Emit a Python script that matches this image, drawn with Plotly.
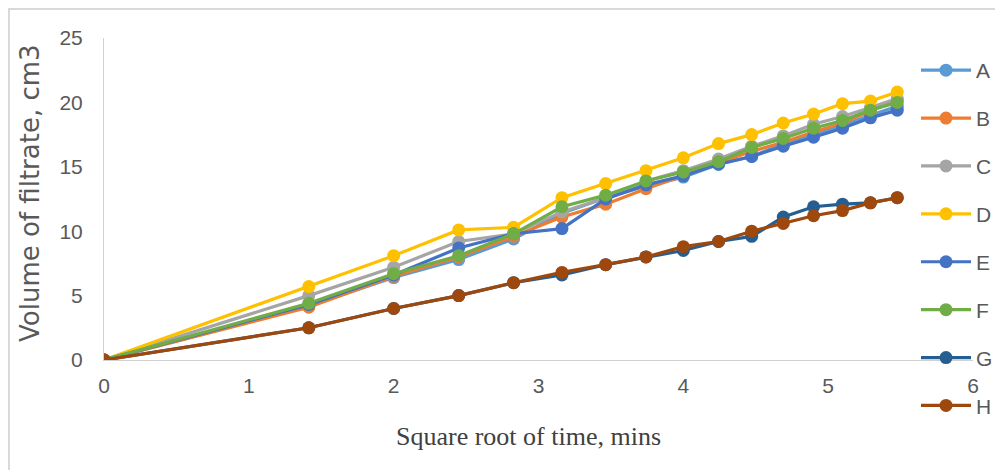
import plotly.graph_objects as go

# square root of time (mins)
x_vals = [0, 1.414, 2, 2.449, 2.828, 3.162, 3.464, 3.742, 4, 4.243, 4.472, 4.690, 4.899, 5.099, 5.292, 5.477]

series_names = ["A", "B", "C", "D", "E", "F", "G", "H"]
A = [0, 4.2, 6.4, 7.8, 9.4, 11.4, 12.6, 13.5, 14.2, 15.2, 15.8, 16.8, 17.5, 18.2, 19.0, 19.7]
B = [0, 4.1, 6.5, 8.0, 9.6, 11.1, 12.1, 13.3, 14.3, 15.3, 16.2, 16.9, 17.7, 18.4, 19.3, 20.2]
C = [0, 5.0, 7.2, 9.2, 9.8, 11.5, 12.6, 13.9, 14.7, 15.6, 16.6, 17.4, 18.3, 18.9, 19.6, 20.3]
D = [0, 5.7, 8.1, 10.1, 10.3, 12.6, 13.7, 14.7, 15.7, 16.8, 17.5, 18.4, 19.1, 19.9, 20.1, 20.8]
E = [0, 4.3, 6.6, 8.7, 9.8, 10.2, 12.5, 13.6, 14.3, 15.2, 15.8, 16.6, 17.3, 18.0, 18.8, 19.4]
F = [0, 4.4, 6.7, 8.1, 9.8, 11.9, 12.8, 13.9, 14.6, 15.4, 16.5, 17.2, 18.0, 18.6, 19.4, 20.0]
G = [0, 2.5, 4.0, 5.0, 6.0, 6.6, 7.4, 8.0, 8.5, 9.2, 9.6, 11.1, 11.9, 12.1, 12.2, 12.6]
H = [0, 2.5, 4.0, 5.0, 6.0, 6.8, 7.4, 8.0, 8.8, 9.2, 10.0, 10.6, 11.2, 11.6, 12.2, 12.6]
series_values = [A, B, C, D, E, F, G, H]

x_title = "Square root of time, mins"
y_title = "Volume of filtrate, cm3"

colors = ["#5B9BD5", "#ED7D31", "#A5A5A5", "#FFC000", "#4472C4", "#70AD47", "#255E91", "#9E480E"]

fig = go.Figure()
for name, vals, col in zip(series_names, series_values, colors):
    fig.add_trace(go.Scatter(
        x=x_vals, y=vals, name=name, mode="lines+markers",
        line=dict(color=col, width=3.2),
        marker=dict(color=col, size=13),
        legendgroup=name,
    ))

tick_font = dict(family="Liberation Sans Narrow, Liberation Sans, sans-serif", size=21, color="#595959")

# page body has an 8px margin: figure coords = reference px - 8
OFF = 8
W, Hh = 1003, 470
L = 104 - OFF
T = 38 - OFF
x_right = 973 - OFF
y_bottom = 360 - OFF
R = W - x_right
B_ = Hh - y_bottom
pw, ph = x_right - L, y_bottom - T

def px2x(px):
    return (px - OFF - L) / pw

def py2y(py):
    return 1 - (py - OFF - T) / ph

fig.update_layout(
    width=W, height=Hh,
    margin=dict(l=L, r=R, t=T, b=B_, autoexpand=False),
    paper_bgcolor="white", plot_bgcolor="white",
    showlegend=True,
    legend=dict(
        x=px2x(916), y=py2y(50), xanchor="left", yanchor="top",
        font=dict(family="Liberation Sans Narrow, Liberation Sans, sans-serif", size=21, color="#595959"),
        bgcolor="rgba(0,0,0,0)",
        tracegroupgap=17.6,
        itemwidth=50,
        maxheight=440,
    ),
    xaxis=dict(
        range=[0, 6], dtick=1, tick0=0,
        showgrid=False, zeroline=False,
        showline=True, linecolor="#D0D0D0", linewidth=1,
        ticks="", tickfont=tick_font,
        ticklabelstandoff=7, automargin=False,
    ),
    yaxis=dict(
        range=[0, 25], dtick=5, tick0=0,
        showgrid=False, zeroline=False,
        showline=True, linecolor="#D0D0D0", linewidth=1,
        ticks="", tickfont=tick_font,
        ticklabelstandoff=16, automargin=False,
    ),
    annotations=[
        dict(text=x_title, xref="paper", yref="paper", x=px2x(528), y=py2y(436),
             xanchor="center", yanchor="middle", showarrow=False,
             font=dict(family="Liberation Serif, serif", size=26, color="#404040")),
        dict(text=y_title, xref="paper", yref="paper", x=px2x(30), y=py2y(193),
             xanchor="center", yanchor="middle", showarrow=False, textangle=-90,
             font=dict(family="DejaVu Sans, sans-serif", size=26, color="#595959")),
    ],
    shapes=[
        dict(type="line", xref="paper", yref="paper",
             x0=px2x(9), x1=px2x(9), y0=py2y(8), y1=py2y(480),
             line=dict(color="#D9D9D9", width=2)),
        dict(type="line", xref="paper", yref="paper",
             x0=px2x(8), x1=px2x(1020), y0=py2y(9), y1=py2y(9),
             line=dict(color="#D9D9D9", width=2)),
    ],
)

fig.write_html("out.html")
